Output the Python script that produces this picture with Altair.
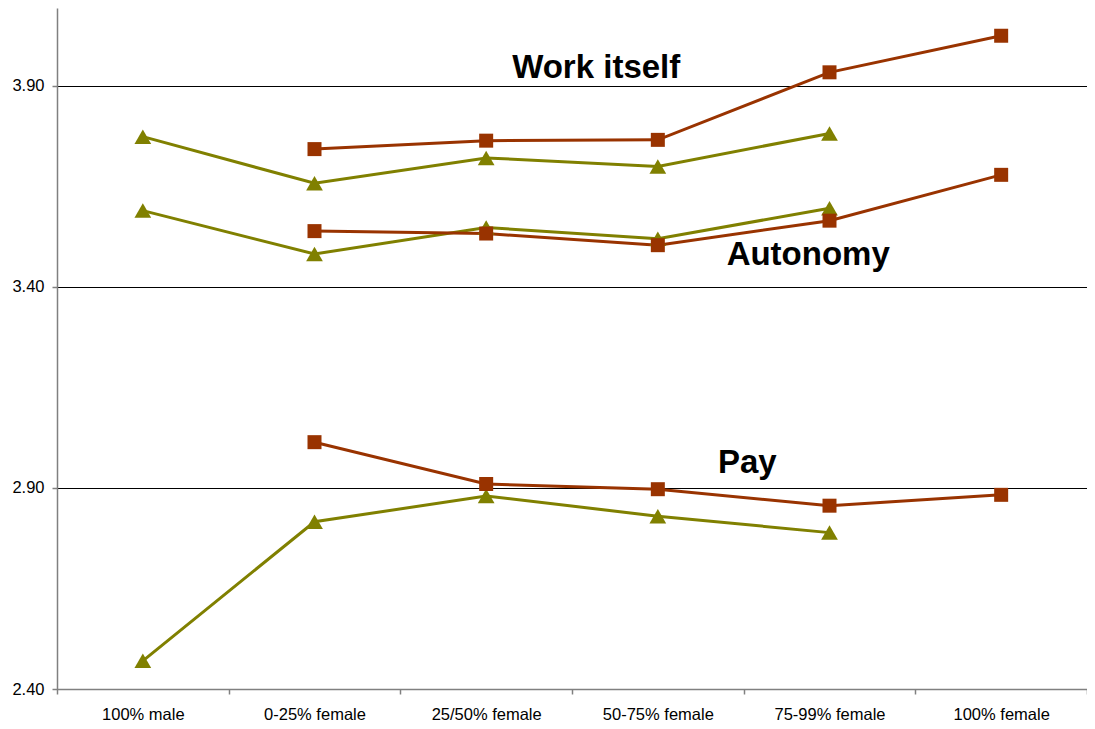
import altair as alt
import pandas as pd

categories = ["100% male", "0-25% female", "25/50% female", "50-75% female", "75-99% female", "100% female"]

# Men (olive, triangles): 100% male .. 75-99% female
men_work = [3.774, 3.658, 3.721, 3.700, 3.782]
men_autonomy = [3.590, 3.482, 3.548, 3.520, 3.596]
men_pay = [2.470, 2.816, 2.880, 2.830, 2.789]

# Women (brown-red, squares): 0-25% female .. 100% female
women_work = [3.743, 3.764, 3.766, 3.934, 4.025]
women_autonomy = [3.539, 3.533, 3.504, 3.565, 3.679]
women_pay = [3.014, 2.910, 2.897, 2.856, 2.883]

label_text = ["Work itself", "Autonomy", "Pay"]
label_x = [2.641, 3.876, 3.521]
label_y = [3.921, 3.455, 2.938]

y_ticks = [2.40, 2.90, 3.40, 3.90]

rows = []
for measure, vals in [("Work itself", men_work), ("Autonomy", men_autonomy), ("Pay", men_pay)]:
    for i, v in enumerate(vals):
        rows.append({"group": "Men", "measure": measure, "idx": i, "cat": categories[i], "value": v})
for measure, vals in [("Work itself", women_work), ("Autonomy", women_autonomy), ("Pay", women_pay)]:
    for i, v in enumerate(vals):
        rows.append({"group": "Women", "measure": measure, "idx": i + 1, "cat": categories[i + 1], "value": v})
df = pd.DataFrame(rows)
df["series"] = df["group"] + " " + df["measure"]

labels_df = pd.DataFrame({"text": label_text, "x": label_x, "y": label_y})

FONT = "Liberation Sans"
cat_array = "[" + ",".join("'" + c + "'" for c in categories) + "]"

x_values = [k / 2 - 0.5 for k in range(0, 13)]

x_axis = alt.Axis(
    values=x_values,
    labelExpr=f"(datum.value % 1 == 0) ? {cat_array}[datum.value] : ''",
    tickOpacity={"condition": {"test": "datum.value % 1 != 0", "value": 1}, "value": 0},
    grid=False,
    title=None,
    domainColor="#808080",
    domainWidth=1.5,
    tickColor="#808080",
    tickWidth=1.5,
    tickSize=5,
    labelFont=FONT,
    labelFontSize=16.5,
    labelColor="#000000",
    labelPadding=12,
    labelOverlap=False,
    labelFlush=False,
    labelBound=False,
)

y_axis = alt.Axis(
    values=y_ticks,
    format=".2f",
    grid=True,
    gridColor="#000000",
    gridWidth=1,
    title=None,
    domainColor="#808080",
    domainWidth=1.5,
    tickColor="#808080",
    tickWidth=1.5,
    tickSize=5,
    labelFont=FONT,
    labelFontSize=16.5,
    labelColor="#000000",
    labelPadding=8,
)

x_enc = alt.X("idx:Q", scale=alt.Scale(domain=[-0.5, 5.5], nice=False, zero=False), axis=x_axis)
y_enc = alt.Y("value:Q", scale=alt.Scale(domain=[2.4, 4.094], nice=False, zero=False), axis=y_axis)

color_scale = alt.Scale(domain=["Men", "Women"], range=["#808000", "#993300"])

lines = alt.Chart(df).mark_line(strokeWidth=3).encode(
    x=x_enc,
    y=y_enc,
    color=alt.Color("group:N", scale=color_scale, legend=None),
    detail="series:N",
    order="idx:Q",
)

points = alt.Chart(df).mark_point(filled=True, opacity=1).encode(
    x=alt.X("idx:Q"),
    y=alt.Y("value:Q"),
    color=alt.Color("group:N", scale=color_scale, legend=None),
    shape=alt.Shape("group:N", scale=alt.Scale(domain=["Men", "Women"], range=["triangle-up", "square"]), legend=None),
    size=alt.Size("group:N", scale=alt.Scale(domain=["Men", "Women"], range=[280, 196]), legend=None),
)

texts = alt.Chart(labels_df).mark_text(
    font=FONT, fontSize=33, fontWeight="bold", color="#000000", align="center", baseline="alphabetic"
).encode(
    x=alt.X("x:Q"),
    y=alt.Y("y:Q"),
    text="text:N",
)

chart = alt.layer(lines, points, texts).properties(
    width=1030,
    height=681,
    padding={"left": 49, "top": 0, "right": 0, "bottom": 32},
    autosize=alt.AutoSizeParams(type="none"),
    background="#ffffff",
).configure_view(stroke=None)

chart.save("out.html", embed_options={"renderer": "svg", "actions": False})
